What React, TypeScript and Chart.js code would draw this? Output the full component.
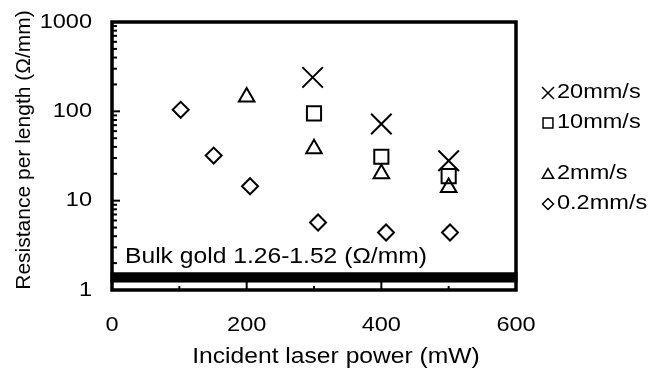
import React, { useEffect, useRef } from 'react';
import { Chart, registerables } from 'chart.js';
import { drawPoint } from 'chart.js/helpers';

Chart.register(...registerables);

const SERIES_LABELS = ['20mm/s', '10mm/s', '2mm/s', '0.2mm/s'];
const SERIES_STYLES = ['crossRot', 'rect', 'triangle', 'rectRot'];
const SERIES_RADII = [14.5, 10, 9, 8];
const LEGEND_RADII = [8.5, 7, 6.5, 5.5];

const POWER_20 = [298, 400, 500];
const RES_20 = [240, 72, 28];
const POWER_10 = [300, 400, 500];
const RES_10 = [95, 31, 18.8];
const POWER_2 = [200, 300, 400, 500];
const RES_2 = [145, 38, 20, 14];
const POWER_02 = [102, 151, 205, 306, 407, 502];
const RES_02 = [104, 32, 14.5, 5.7, 4.4, 4.4];

const BULK_LOW = 1.26;
const BULK_HIGH = 1.52;
const BULK_TEXT = 'Bulk gold 1.26-1.52 (Ω/mm)';

const Y_TICKS = [1, 10, 100, 1000];
const X_TICKS = [0, 200, 400, 600];
const X_MINOR = [100, 300, 500];

const X_TITLE = 'Incident laser power (mW)';
const Y_TITLE = 'Resistance per length (Ω/mm)';

const FONT = '"Liberation Sans", Arial, sans-serif';
const SX = 1.12;

const toPoints = (xs: number[], ys: number[]) => xs.map((x, i) => ({ x, y: ys[i] }));

function text(
  ctx: CanvasRenderingContext2D,
  s: string,
  x: number,
  y: number,
  size: number,
  align: CanvasTextAlign,
  baseline: CanvasTextBaseline,
  rotate = false
) {
  ctx.save();
  ctx.translate(x, y);
  if (rotate) ctx.rotate(-Math.PI / 2);
  else ctx.scale(SX, 1);
  ctx.font = `${size}px ${FONT}`;
  ctx.fillStyle = '#000';
  ctx.textAlign = align;
  ctx.textBaseline = baseline;
  ctx.fillText(s, 0, 0);
  ctx.restore();
}

const decorPlugin = {
  id: 'decor',
  beforeDatasetsDraw(chart: any) {
    const { ctx, chartArea: a, scales } = chart;
    const y = scales.y;
    const x = scales.x;
    ctx.save();
    // bulk gold band
    const yHi = y.getPixelForValue(BULK_HIGH);
    const yLo = y.getPixelForValue(BULK_LOW);
    ctx.fillStyle = '#000';
    ctx.strokeStyle = '#000';
    ctx.fillRect(a.left, yHi, a.right - a.left, yLo - yHi);
    ctx.lineWidth = 3;
    ctx.strokeRect(a.left, yHi, a.right - a.left, yLo - yHi);
    // y minor/major ticks (inward)
    ctx.lineWidth = 2;
    for (let d = 0; d < 3; d++) {
      for (let m = 1; m <= 9; m++) {
        const v = m * Math.pow(10, d);
        const py = y.getPixelForValue(v);
        const len = m === 1 ? 8 : 5;
        ctx.beginPath();
        ctx.moveTo(a.left, py);
        ctx.lineTo(a.left + len, py);
        ctx.stroke();
      }
    }
    // x ticks (inward from bottom)
    X_TICKS.forEach((v) => {
      const px = x.getPixelForValue(v);
      ctx.beginPath();
      ctx.moveTo(px, a.bottom);
      ctx.lineTo(px, a.bottom - 10);
      ctx.stroke();
    });
    X_MINOR.forEach((v) => {
      const px = x.getPixelForValue(v);
      ctx.beginPath();
      ctx.moveTo(px, a.bottom);
      ctx.lineTo(px, a.bottom - 4);
      ctx.stroke();
    });
    // frame
    ctx.lineWidth = 3.5;
    ctx.strokeRect(a.left, a.top, a.right - a.left, a.bottom - a.top);
    ctx.restore();
  },
  afterDraw(chart: any) {
    const { ctx, chartArea: a, scales } = chart;
    const y = scales.y;
    const x = scales.x;
    ctx.save();
    // tick labels
    Y_TICKS.forEach((v) => text(ctx, String(v), a.left - 20, y.getPixelForValue(v), 21, 'right', 'middle'));
    X_TICKS.forEach((v) => text(ctx, String(v), x.getPixelForValue(v), 325, 21, 'center', 'middle'));
    // axis titles
    text(ctx, X_TITLE, 336, 357, 22, 'center', 'middle');
    text(ctx, Y_TITLE, 24, 150, 21, 'center', 'middle', true);
    // bulk text
    text(ctx, BULK_TEXT, a.left + 13, y.getPixelForValue(BULK_HIGH) - 11, 22, 'left', 'alphabetic');
    // legend
    const legendY = [92, 122, 173, 203];
    SERIES_LABELS.forEach((lab, i) => {
      ctx.strokeStyle = '#000';
      ctx.fillStyle = 'rgba(0,0,0,0)';
      ctx.lineWidth = 1.5;
      drawPoint(
        ctx,
        { pointStyle: SERIES_STYLES[i], radius: LEGEND_RADII[i], rotation: 0, borderWidth: 1.5 } as any,
        548,
        legendY[i] + (SERIES_STYLES[i] === 'triangle' ? 2 : 1)
      );
      text(ctx, lab, 557, legendY[i], 21, 'left', 'middle');
    });
    ctx.restore();
  },
};

export default function App() {
  const ref = useRef<HTMLCanvasElement | null>(null);
  useEffect(() => {
    if (!ref.current) return;
    const mk = (i: number, data: { x: number; y: number }[]) => ({
      label: SERIES_LABELS[i],
      data,
      showLine: false,
      pointStyle: SERIES_STYLES[i],
      pointRadius: SERIES_RADII[i],
      pointHoverRadius: SERIES_RADII[i],
      pointBorderWidth: 2,
      borderColor: '#000',
      backgroundColor: 'rgba(0,0,0,0)',
    });
    const chart = new Chart(ref.current, {
      type: 'scatter',
      data: {
        datasets: [
          mk(0, toPoints(POWER_20, RES_20)),
          mk(1, toPoints(POWER_10, RES_10)),
          mk(2, toPoints(POWER_2, RES_2)),
          mk(3, toPoints(POWER_02, RES_02)),
        ],
      },
      options: {
        animation: false,
        responsive: true,
        maintainAspectRatio: false,
        layout: { padding: { top: 22, right: 151, left: 0, bottom: 0 } },
        plugins: { legend: { display: false }, tooltip: { enabled: false } },
        scales: {
          x: {
            type: 'linear',
            min: 0,
            max: 600,
            afterBuildTicks: (s: any) => {
              s.ticks = X_TICKS.map((v) => ({ value: v }));
            },
            afterFit: (s: any) => {
              s.height = 80;
            },
            ticks: { display: false },
            grid: { display: false, drawTicks: false },
            border: { display: false },
            title: { display: false, text: X_TITLE },
          },
          y: {
            type: 'logarithmic',
            min: 1,
            max: 1000,
            afterBuildTicks: (s: any) => {
              s.ticks = Y_TICKS.map((v) => ({ value: v }));
            },
            afterFit: (s: any) => {
              s.width = 112;
            },
            ticks: { display: false },
            grid: { display: false, drawTicks: false },
            border: { display: false },
            title: { display: false, text: Y_TITLE },
          },
        },
      },
      plugins: [decorPlugin],
    } as any);
    return () => chart.destroy();
  }, []);
  return (
    <div style={{ position: 'fixed', left: 0, top: 0, width: 667, height: 370, background: '#fff' }}>
      <canvas ref={ref} />
    </div>
  );
}
